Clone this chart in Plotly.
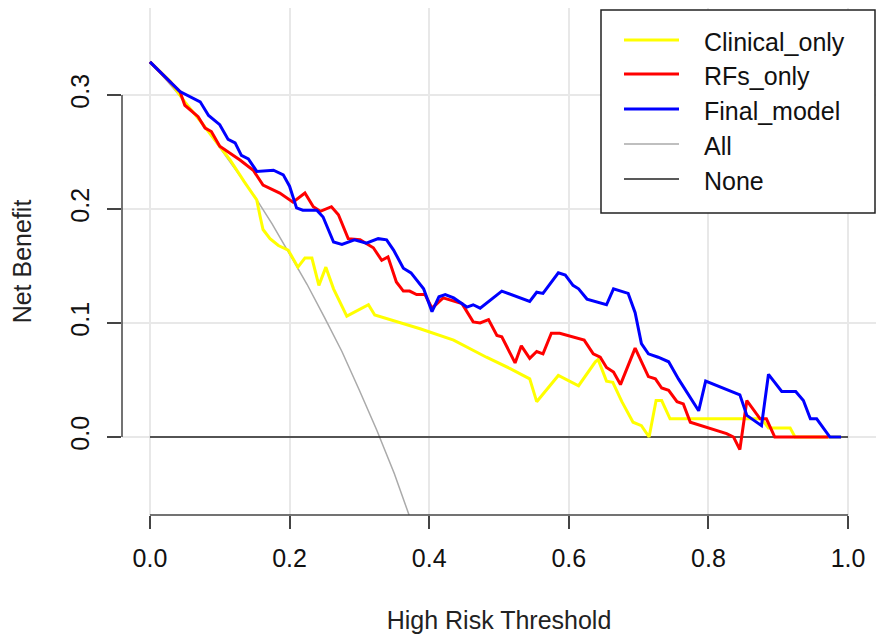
import plotly.graph_objects as go

# threshold / net benefit values
t_all = [0, 0.025, 0.05, 0.075, 0.1, 0.125, 0.15, 0.175, 0.2, 0.225, 0.25, 0.275, 0.3, 0.325, 0.35, 0.375, 0.4]
nb_all = [0.329, 0.312, 0.294, 0.275, 0.254, 0.233, 0.211, 0.187, 0.161, 0.134, 0.105, 0.075, 0.041, 0.006, -0.032, -0.074, -0.118]

t_none = [0, 1]
nb_none = [0, 0]

t_clin = [0, 0.029, 0.038, 0.05, 0.075, 0.1, 0.115, 0.135, 0.153, 0.158,
          0.162, 0.172, 0.184, 0.198, 0.212, 0.222, 0.232, 0.242, 0.252, 0.263,
          0.282, 0.313, 0.322, 0.387, 0.435, 0.482, 0.516, 0.544, 0.554, 0.585,
          0.614, 0.638, 0.642, 0.654, 0.663, 0.676, 0.692, 0.704, 0.715, 0.725,
          0.733, 0.745, 0.876, 0.886, 0.917, 0.924, 0.99]
nb_clin = [0.329, 0.312, 0.304, 0.294, 0.275, 0.255, 0.243, 0.224, 0.208, 0.193,
           0.182, 0.174, 0.168, 0.164, 0.149, 0.157, 0.157, 0.133, 0.149, 0.130,
           0.106, 0.116, 0.107, 0.095, 0.085, 0.070, 0.060, 0.051, 0.031, 0.054,
           0.045, 0.066, 0.068, 0.049, 0.048, 0.031, 0.013, 0.010, 0.0, 0.032,
           0.032, 0.016, 0.016, 0.008, 0.008, 0.0, 0.0]

t_rfs = [0, 0.043, 0.05, 0.057, 0.069, 0.079, 0.088, 0.1, 0.112, 0.129,
         0.148, 0.162, 0.186, 0.205, 0.222, 0.234, 0.244, 0.26, 0.27, 0.284,
         0.301, 0.32, 0.332, 0.341, 0.353, 0.363, 0.372, 0.382, 0.394, 0.404,
         0.42, 0.435, 0.447, 0.463, 0.473, 0.485, 0.497, 0.504, 0.523, 0.532,
         0.544, 0.554, 0.563, 0.575, 0.587, 0.622, 0.635, 0.645, 0.654, 0.664,
         0.674, 0.695, 0.714, 0.724, 0.733, 0.743, 0.755, 0.764, 0.774, 0.826,
         0.836, 0.845, 0.855, 0.874, 0.883, 0.895, 0.972]
nb_rfs = [0.329, 0.303, 0.291, 0.287, 0.281, 0.271, 0.268, 0.255, 0.250, 0.243,
          0.234, 0.221, 0.214, 0.206, 0.214, 0.202, 0.198, 0.202, 0.195, 0.174,
          0.173, 0.166, 0.155, 0.158, 0.136, 0.128, 0.128, 0.125, 0.125, 0.113,
          0.122, 0.119, 0.117, 0.101, 0.100, 0.103, 0.089, 0.088, 0.065, 0.080,
          0.069, 0.075, 0.073, 0.091, 0.091, 0.085, 0.073, 0.070, 0.061, 0.057,
          0.046, 0.078, 0.053, 0.051, 0.043, 0.041, 0.031, 0.029, 0.013, 0.003,
          0.0, -0.011, 0.032, 0.016, 0.016, 0.0, 0.0]

t_fin = [0, 0.043, 0.072, 0.084, 0.1, 0.112, 0.122, 0.131, 0.141, 0.153,
         0.177, 0.191, 0.2, 0.21, 0.219, 0.239, 0.248, 0.263, 0.275, 0.293,
         0.31, 0.327, 0.339, 0.349, 0.363, 0.374, 0.392, 0.404, 0.414, 0.423,
         0.435, 0.454, 0.463, 0.473, 0.504, 0.544, 0.554, 0.563, 0.585, 0.595,
         0.606, 0.614, 0.626, 0.654, 0.664, 0.676, 0.685, 0.695, 0.704, 0.714,
         0.728, 0.743, 0.757, 0.786, 0.796, 0.845, 0.855, 0.876, 0.886, 0.905,
         0.925, 0.936, 0.946, 0.955, 0.974, 0.99]
nb_fin = [0.329, 0.303, 0.294, 0.282, 0.274, 0.261, 0.258, 0.247, 0.244, 0.233,
          0.234, 0.230, 0.220, 0.201, 0.199, 0.199, 0.193, 0.171, 0.169, 0.173,
          0.170, 0.174, 0.173, 0.164, 0.148, 0.144, 0.130, 0.110, 0.123, 0.125,
          0.122, 0.114, 0.116, 0.113, 0.128, 0.119, 0.127, 0.126, 0.144, 0.142,
          0.133, 0.130, 0.121, 0.116, 0.130, 0.128, 0.126, 0.109, 0.082, 0.073,
          0.070, 0.066, 0.051, 0.023, 0.049, 0.037, 0.019, 0.010, 0.055, 0.040,
          0.040, 0.032, 0.016, 0.016, 0.0, 0.0]

x_ticks = [0, 0.2, 0.4, 0.6, 0.8, 1.0]
x_labels = ["0.0", "0.2", "0.4", "0.6", "0.8", "1.0"]
y_ticks = [0, 0.1, 0.2, 0.3]
y_labels = ["0.0", "0.1", "0.2", "0.3"]

names = ["Clinical_only", "RFs_only", "Final_model", "All", "None"]
colors = ["#ffff00", "#ff0000", "#0000ff", "#aaaaaa", "#222222"]
widths = [3, 3, 3, 1.5, 1.5]

FONT = "Liberation Sans, Arial, sans-serif"
FS = 25

fig = go.Figure()
# reference lines first, models drawn on top
fig.add_trace(go.Scatter(x=t_all, y=nb_all, mode="lines", name=names[3],
                         line=dict(color=colors[3], width=widths[3])))
fig.add_trace(go.Scatter(x=t_none, y=nb_none, mode="lines", name=names[4],
                         line=dict(color=colors[4], width=widths[4])))
fig.add_trace(go.Scatter(x=t_clin, y=nb_clin, mode="lines", name=names[0],
                         line=dict(color=colors[0], width=widths[0])))
fig.add_trace(go.Scatter(x=t_rfs, y=nb_rfs, mode="lines", name=names[1],
                         line=dict(color=colors[1], width=widths[1])))
fig.add_trace(go.Scatter(x=t_fin, y=nb_fin, mode="lines", name=names[2],
                         line=dict(color=colors[2], width=widths[2])))

# R-style axis lines that only span the tick range
fig.add_shape(type="line", xref="x", yref="paper", x0=0, x1=1, y0=0, y1=0,
              line=dict(color="#444444", width=1.5))
fig.add_shape(type="line", xref="paper", yref="y", x0=0, x1=0, y0=0, y1=0.3,
              line=dict(color="#444444", width=1.5))

# the page body adds an 8px offset, so the figure is 8px smaller than the window
OFF = 8
W, H = 886 - OFF, 636 - OFF
L, R, T, B = 122 - OFF, 10, 0, 636 - 515
PW, PH = W - L - R, H - T - B

def px(x):
    return (x - OFF - L) / PW

def py(y):
    return (515 - y) / PH

# legend box drawn by hand (R legend look)
fig.add_shape(type="rect", xref="paper", yref="paper",
              x0=px(601), x1=px(875), y0=py(213), y1=py(10),
              line=dict(color="#222222", width=1.5), fillcolor="white", layer="above")
rows = [42, 76, 111, 146, 181]
for i, nm in enumerate(names):
    fig.add_shape(type="line", xref="paper", yref="paper",
                  x0=px(624), x1=px(679), y0=py(rows[i] - 2), y1=py(rows[i] - 2),
                  line=dict(color=colors[i], width=widths[i]), layer="above")
    fig.add_annotation(xref="paper", yref="paper", x=px(702), y=py(rows[i]),
                       text=nm, showarrow=False, xanchor="left", yanchor="middle",
                       font=dict(family=FONT, size=FS, color="#111111"))

fig.update_layout(
    width=W, height=H,
    margin=dict(l=L, r=R, t=T, b=B),
    plot_bgcolor="white", paper_bgcolor="white",
    showlegend=False,
    font=dict(family=FONT, size=FS, color="#222222"),
)
fig.update_xaxes(range=[-0.04, 1.04], tickvals=x_ticks, ticktext=x_labels,
                 ticks="outside", ticklen=13, tickwidth=1.5, tickcolor="#444444",
                 tickfont=dict(size=FS, color="#111111"), ticklabelstandoff=8,
                 showgrid=True, gridcolor="#e8e8e8", gridwidth=1.5,
                 zeroline=False, showline=False, automargin=False,
                 title=dict(text="High Risk Threshold", standoff=40,
                            font=dict(size=FS, color="#222222")))
fig.update_yaxes(range=[-0.0684, (437 - OFF) / 1140], tickvals=y_ticks, ticktext=y_labels,
                 ticks="outside", ticklen=14, tickwidth=1.5, tickcolor="#444444",
                 tickangle=-90, tickfont=dict(size=FS, color="#111111"),
                 ticklabelstandoff=8,
                 showgrid=True, gridcolor="#e8e8e8", gridwidth=1.5,
                 zeroline=False, showline=False, automargin=False,
                 title=dict(text="Net Benefit", standoff=30,
                            font=dict(size=FS, color="#222222")))

fig.write_html("out.html")
